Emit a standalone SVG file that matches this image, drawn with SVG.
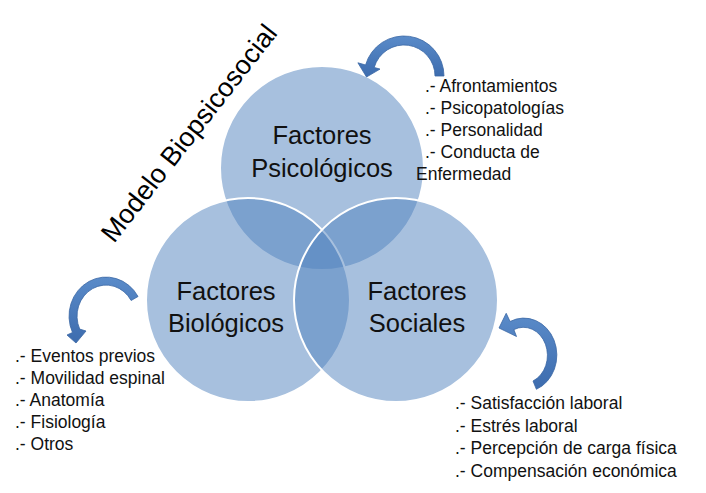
<svg xmlns="http://www.w3.org/2000/svg" width="706" height="493" viewBox="0 0 706 493">
  <defs>
    <linearGradient id="arrowGrad" x1="0" y1="0" x2="0" y2="1">
      <stop offset="0" stop-color="#5a8bc9"/>
      <stop offset="1" stop-color="#3d6cae"/>
    </linearGradient>
  </defs>
  <style>
    .circ { fill: #4f81bd; fill-opacity: 0.5; stroke: #ffffff; stroke-width: 2; }
    .lbl { font-family: "Liberation Sans", Arial, sans-serif; font-size: 25.5px; fill: #111; text-anchor: middle; }
    .lst { font-family: "Liberation Sans", Arial, sans-serif; font-size: 17.5px; fill: #111; }
    .ttl { font-family: "Liberation Sans", Arial, sans-serif; font-size: 27px; fill: #000; }
    .arr { fill: url(#arrowGrad); stroke: #3a67a4; stroke-width: 0.8; }
  </style>
  <rect width="706" height="493" fill="#ffffff"/>

  <g id="title">
    <text class="ttl" x="114" y="244" transform="rotate(-52 114 244)">Modelo Biopsicosocial</text>
  </g>

  <g id="psicologicos">
    <circle class="circ" cx="322" cy="168" r="102"/>
  </g>
  <g id="biologicos">
    <circle class="circ" cx="248" cy="300" r="102"/>
  </g>
  <g id="sociales">
    <circle class="circ" cx="396" cy="300" r="102"/>
  </g>

  <g id="labels">
    <text class="lbl" x="322" y="144">Factores</text>
    <text class="lbl" x="322" y="177">Psicológicos</text>
    <text class="lbl" x="226" y="300">Factores</text>
    <text class="lbl" x="226" y="332">Biológicos</text>
    <text class="lbl" x="417" y="300">Factores</text>
    <text class="lbl" x="417" y="332">Sociales</text>
  </g>

  <g id="lista-psicologicos">
    <text class="lst" x="425" y="92">.- Afrontamientos</text>
    <text class="lst" x="425" y="114">.- Psicopatologías</text>
    <text class="lst" x="425" y="136">.- Personalidad</text>
    <text class="lst" x="425" y="158">.- Conducta de</text>
    <text class="lst" x="416" y="180">Enfermedad</text>
  </g>

  <g id="lista-biologicos">
    <text class="lst" x="15" y="362">.- Eventos previos</text>
    <text class="lst" x="15" y="384">.- Movilidad espinal</text>
    <text class="lst" x="15" y="406">.- Anatomía</text>
    <text class="lst" x="15" y="428">.- Fisiología</text>
    <text class="lst" x="15" y="450">.- Otros</text>
  </g>

  <g id="lista-sociales">
    <text class="lst" x="455" y="409">.- Satisfacción laboral</text>
    <text class="lst" x="455" y="432">.- Estrés laboral</text>
    <text class="lst" x="455" y="454">.- Percepción de carga física</text>
    <text class="lst" x="455" y="477">.- Compensación económica</text>
  </g>

  <g id="connectors">
    <path class="arr" d="M444,76 A40,40 0 0 0 365.55,64.97 L357.9,62.8 L366.5,77 L380,69.1 L374.2,67.45 A31,31 0 0 1 435,76 Z"/>
    <path class="arr" d="M536.4,389.3 A33,37 0 1 0 510.05,321.47 L506.2,313.3 L499,328 L516.5,336.5 L513.86,329.62 A24,28 0 1 1 533,381 Z"/>
    <path class="arr" d="M138.04,296.5 A37,39 0 0 0 72.47,332.48 L67,335 L76,343 L86,331 L79.72,329.1 A29,31 0 0 1 131.11,300.5 Z"/>
  </g>
</svg>
